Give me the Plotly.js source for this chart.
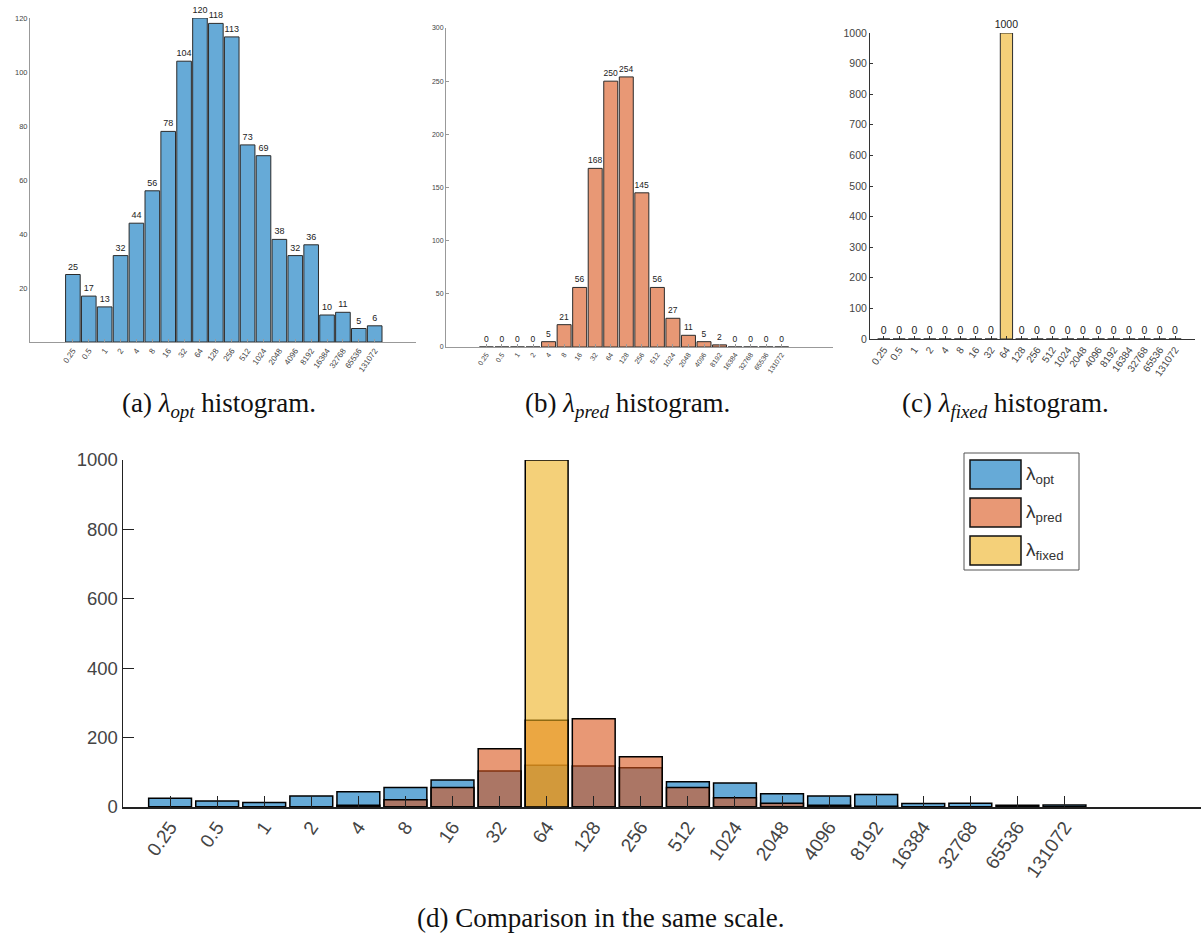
<!DOCTYPE html>
<html>
<head>
<meta charset="utf-8">
<script src="https://cdn.plot.ly/plotly-3.0.1.min.js"></script>
<style>
  html, body { margin: 0; padding: 0; background: #ffffff; }
  #chart { width: 1201px; height: 941px; }
</style>
</head>
<body>
<div id="chart"></div>
<script>
// ---- data ----
const lambdaBins = ['0.25','0.5','1','2','4','8','16','32','64','128','256','512','1024','2048','4096','8192','16384','32768','65536','131072'];
const optCounts   = [25,17,13,32,44,56,78,104,120,118,113,73,69,38,32,36,10,11,5,6];
const predCounts  = [0,0,0,0,5,21,56,168,250,254,145,56,27,11,5,2,0,0,0,0];
const fixedCounts = [0,0,0,0,0,0,0,0,1000,0,0,0,0,0,0,0,0,0,0,0];
const seriesNames = ['λ<sub>opt</sub>','λ<sub>pred</sub>','λ<sub>fixed</sub>'];
const captions = [
  '(a) <i>λ<sub>opt</sub></i> histogram.',
  '(b) <i>λ<sub>pred</sub></i> histogram.',
  '(c) <i>λ<sub>fixed</sub></i> histogram.',
  '(d) Comparison in the same scale.'
];

// ---- styling ----
const W = 1201, H = 941;
const px = x => x / W;
const py = y => 1 - y / H;
const solid = ['rgb(102,170,215)','rgb(232,152,117)','rgb(244,208,121)'];
const alpha = ['rgba(0,114,189,0.6)','rgba(217,83,25,0.6)','rgba(237,177,32,0.6)'];
const sans = 'Liberation Sans, Arial, sans-serif';
const serif = 'Liberation Serif, Times New Roman, serif';

const traces = [];
function single(vals, i, xa, ya, width, fs) {
  traces.push({
    type: 'bar', x: lambdaBins, y: vals, xaxis: xa, yaxis: ya,
    width: width, name: seriesNames[i], showlegend: false,
    marker: { color: solid[i], line: { color: '#2b2b2b', width: 1 } },
    text: vals.map(String), textposition: 'outside', constraintext: 'none',
    cliponaxis: false, textfont: { family: sans, size: fs, color: '#222' },
    hoverinfo: 'x+y'
  });
}
single(optCounts, 0, 'x', 'y', 0.92, 9);
single(predCounts, 1, 'x2', 'y2', 0.9, 8.5);
single(fixedCounts, 2, 'x3', 'y3', 0.8, 10.5);

[optCounts, predCounts, fixedCounts].forEach((vals, i) => {
  traces.push({
    type: 'bar', x: lambdaBins, y: vals, xaxis: 'x4', yaxis: 'y4',
    width: 0.91, name: seriesNames[i], showlegend: false,
    marker: { color: alpha[i], line: { color: '#000', width: 1.5 } },
    hoverinfo: 'x+y'
  });
});

function xax(domain, range, fs, lc, tl) {
  return {
    type: 'category', domain: domain, range: range, showgrid: false, zeroline: false,
    showline: true, linecolor: lc, linewidth: 1, ticks: 'inside', ticklen: tl, tickcolor: lc,
    tickangle: -55, tickfont: { family: sans, size: fs, color: '#444' },
    layer: 'above traces', fixedrange: true
  };
}
function yax(domain, range, tickvals, fs, lc, tl, anchor) {
  return {
    domain: domain, range: range, tickvals: tickvals, showgrid: false, zeroline: false,
    showline: true, linecolor: lc, linewidth: 1, ticks: 'inside', ticklen: tl, tickcolor: lc,
    tickfont: { family: sans, size: fs, color: '#444' }, anchor: anchor, fixedrange: true
  };
}

const layout = {
  width: W, height: H, margin: { l: 0, r: 0, t: 0, b: 0 },
  paper_bgcolor: '#fff', plot_bgcolor: 'rgba(0,0,0,0)',
  barmode: 'overlay', showlegend: false,
  xaxis:  Object.assign(xax([px(30), px(416)], [-2.7, 21.6], 8, '#999', 3), { anchor: 'y' }),
  yaxis:  yax([py(342), py(18)], [0, 120], [20,40,60,80,100,120], 7.5, '#999', 0, 'x'),
  xaxis2: Object.assign(xax([px(446), px(833)], [-2.6, 22.3], 7, '#999', 3), { anchor: 'y2' }),
  yaxis2: yax([py(347), py(28)], [0, 300], [0,50,100,150,200,250,300], 7, '#999', 3, 'x2'),
  xaxis3: Object.assign(xax([px(870), px(1195)], [-0.9, 20.3], 10, '#333', 3), { anchor: 'y3' }),
  yaxis3: yax([py(339), py(33)], [0, 1000], [0,100,200,300,400,500,600,700,800,900,1000], 10.5, '#333', 3, 'x3'),
  xaxis4: Object.assign(xax([px(123), px(1201)], [-1.0, 21.9], 19, '#222', 11), { anchor: 'y4', linewidth: 1.5 }),
  yaxis4: Object.assign(yax([py(807), py(460)], [0, 1000], [0,200,400,600,800,1000], 18.5, '#222', 11, 'x4'), { linewidth: 1.5 }),
  shapes: [], annotations: []
};

// captions
const capPos = [[219, 405], [627, 405], [1005, 405], [600, 918]];
captions.forEach((t, i) => {
  layout.annotations.push({
    xref: 'paper', yref: 'paper', x: px(capPos[i][0]), y: py(capPos[i][1]),
    xanchor: 'center', yanchor: 'middle', showarrow: false, text: t,
    font: { family: serif, size: 27, color: '#111' }
  });
});

// legend box for (d)
layout.shapes.push({ type: 'rect', xref: 'paper', yref: 'paper',
  x0: px(964), x1: px(1079), y0: py(570), y1: py(453),
  line: { color: '#555', width: 1 }, fillcolor: '#fff', layer: 'above' });
const sw = [[460, 489], [498, 527], [536, 565]];
sw.forEach((s, i) => {
  layout.shapes.push({ type: 'rect', xref: 'paper', yref: 'paper',
    x0: px(970), x1: px(1021), y0: py(s[1]), y1: py(s[0]),
    line: { color: '#111', width: 1.5 }, fillcolor: solid[i], layer: 'above' });
  layout.annotations.push({ xref: 'paper', yref: 'paper', x: px(1024), y: py((s[0] + s[1]) / 2),
    xanchor: 'left', yanchor: 'middle', showarrow: false, text: seriesNames[i],
    font: { family: sans, size: 19, color: '#333' } });
});

Plotly.newPlot('chart', traces, layout, { displayModeBar: false, staticPlot: true });
</script>
</body>
</html>
